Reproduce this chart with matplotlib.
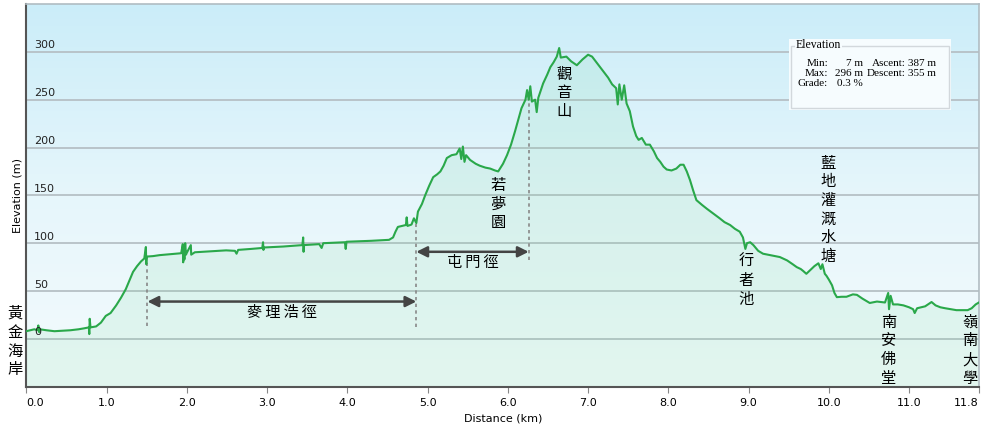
import matplotlib
matplotlib.use('Agg')
import matplotlib.pyplot as plt
import matplotlib.patches as mpatches
import matplotlib.transforms as mtransforms
from matplotlib.colors import LinearSegmentedColormap
import numpy as np

# elevation profile (km, m)
dist = [0.00, 0.05, 0.10, 0.14, 0.15, 0.16, 0.17, 0.25, 0.35, 0.45, 0.55, 0.65, 0.72, 0.78, 0.785, 0.79, 0.80,
        0.87, 0.93, 0.99, 1.05, 1.12, 1.18, 1.24, 1.29, 1.33, 1.38, 1.43, 1.47, 1.49, 1.495, 1.50, 1.58, 1.66,
        1.80, 1.93, 1.95, 1.955, 1.96, 1.97, 1.98, 1.99, 2.00, 2.05, 2.055, 2.10, 2.30, 2.49, 2.60, 2.62, 2.64,
        2.80, 2.94, 2.95, 2.955, 2.96, 3.20, 3.44, 3.45, 3.455, 3.46, 3.65, 3.68, 3.70, 3.97, 3.98, 3.99, 4.30,
        4.52, 4.57, 4.60, 4.63, 4.73, 4.74, 4.75, 4.80, 4.83, 4.86, 4.88, 4.93, 4.97, 5.02, 5.07, 5.12, 5.16,
        5.20, 5.24, 5.30, 5.36, 5.40, 5.42, 5.44, 5.46, 5.48, 5.53, 5.60, 5.65, 5.72, 5.78, 5.84, 5.88, 5.94,
        5.99, 6.04, 6.09, 6.13, 6.17, 6.22, 6.24, 6.26, 6.28, 6.30, 6.34, 6.36, 6.38, 6.44, 6.49, 6.53, 6.57,
        6.61, 6.64, 6.66, 6.73, 6.79, 6.86, 6.93, 7.00, 7.05, 7.15, 7.25, 7.30, 7.35, 7.37, 7.39, 7.42, 7.45,
        7.48, 7.52, 7.56, 7.60, 7.63, 7.67, 7.72, 7.77, 7.82, 7.86, 7.90, 7.94, 7.98, 8.04, 8.10, 8.15, 8.19,
        8.23, 8.27, 8.31, 8.35, 8.42, 8.48, 8.56, 8.64, 8.70, 8.77, 8.83, 8.89, 8.93, 8.96, 8.98, 9.02, 9.06,
        9.12, 9.18, 9.30, 9.39, 9.48, 9.55, 9.60, 9.65, 9.68, 9.72, 9.77, 9.82, 9.87, 9.90, 9.92, 9.95, 9.97,
        10.00, 10.04, 10.07, 10.10, 10.16, 10.22, 10.30, 10.35, 10.42, 10.51, 10.60, 10.70, 10.74, 10.75,
        10.77, 10.80, 10.86, 10.93, 11.00, 11.05, 11.07, 11.10, 11.20, 11.28, 11.33, 11.39, 11.45, 11.59,
        11.73, 11.78, 11.83, 11.87]
elev = [8, 9, 10, 9, 14, 7, 10, 9, 8, 8.5, 9, 10, 11, 12, 5, 21, 12,
        13, 17, 24, 27, 35, 43, 52, 62, 70, 76, 81, 84, 96, 78, 86, 86.5, 87.5,
        88.5, 89.5, 99, 80, 97, 83, 100, 88, 90, 98, 88, 90.5, 91.5, 92.5, 92, 89, 93,
        94, 95, 101, 93, 95.5, 96.5, 98, 106, 91, 98, 99, 95, 100, 101, 94, 101.5, 102.5,
        103.5, 106, 112, 117, 119, 127, 118, 119.5, 126, 121, 133, 141, 150, 160, 169, 172, 175,
        181, 189, 192, 193, 199, 188, 201, 185, 192, 187, 183, 181, 179, 178, 176, 175, 183,
        192, 203, 217, 229, 241, 250, 260, 250, 264, 248, 250, 237, 252, 267, 276, 284, 289,
        295, 304, 294, 295, 290, 286, 292, 297, 295, 284, 273, 266, 262, 245, 266, 250, 265,
        246, 238, 222, 212, 208, 210, 203, 203, 196, 189, 185, 180, 177, 176, 178, 182, 182,
        175, 166, 155, 145, 140, 136, 131, 126, 122, 119, 115, 112, 106, 94, 100, 101, 98,
        92, 89, 87, 85.5, 82, 78, 75, 73, 71, 68, 72, 76, 79, 73, 78, 68, 66,
        62, 56, 48, 43.6, 44, 44, 46.5, 46, 42, 37.5, 39, 38, 48, 31,
        45, 36, 36, 35, 33, 31, 27, 32, 34, 38.5, 35, 33, 32, 30,
        30, 32, 36, 38]

y_ticks = [0, 50, 100, 150, 200, 250, 300]
x_ticks = [0, 1, 2, 3, 4, 5, 6, 7, 8, 9, 10, 11, 11.87]
x_ticklabels = ['0.0', '1.0', '2.0', '3.0', '4.0', '5.0', '6.0', '7.0', '8.0', '9.0', '10.0', '11.0', '11.8']

# place names (vertical text): label, km, elevation of the text centre
places = [('黃金海岸', -0.14, -3),
          ('若夢園', 5.88, 141),
          ('觀音山', 6.70, 257),
          ('行者池', 8.97, 61),
          ('藍地灌溉水塘', 9.99, 135),
          ('南安佛堂', 10.74, -12),
          ('嶺南大學', 11.76, -12)]

# trail sections: name, start km, end km, arrow elevation
trails = [('麥理浩徑', 1.51, 4.86, 39),
          ('屯門徑', 4.86, 6.26, 91)]

stats = {'min': 7, 'max': 296, 'ascent': 387, 'descent': 355, 'grade': 0.3}

cjk = ['Noto Sans CJK TC', 'DejaVu Sans']
xmax, ymin, ymax = 11.875, -50, 350

fig = plt.figure(figsize=(9.85, 4.33), dpi=100)
ax = fig.add_axes([26.3 / 985, 46.3 / 433, 953 / 985, 382.7 / 433])

bg = LinearSegmentedColormap.from_list('bg', ['#f4fbfd', '#e6f6fb', '#cbedf9'])
ax.imshow(np.linspace(0, 1, 256).reshape(-1, 1), extent=[0, xmax, ymin, ymax], aspect='auto',
          cmap=bg, origin='lower', zorder=0)

for v in y_ticks:
    ax.axhline(v, color='#b6c0c5', lw=1.3, zorder=1)
    ax.text(0.008, v + 1.5, str(v), transform=mtransforms.blended_transform_factory(ax.transAxes, ax.transData),
            fontsize=8, color='#222222', va='bottom', ha='left', zorder=5)

ax.fill_between(dist, elev, ymin, color='#6fd596', alpha=0.13, lw=0, zorder=2)
ax.plot(dist, elev, color='#2aa84a', lw=1.5, zorder=4)

# trail arrows with dashed end markers
for name, x0, x1, y in trails:
    ax.annotate('', xy=(x0, y), xytext=(x1, y),
                arrowprops=dict(arrowstyle='<|-|>', color='#444444', lw=1.8, mutation_scale=16,
                                shrinkA=0, shrinkB=0), zorder=6)
    ax.text((x0 + x1) / 2, y - 11, '\u2009'.join(name), family=cjk, fontsize=11, ha='center', va='center',
            zorder=6)
for xd, ytop, ybot in [(1.51, 85, 13), (4.86, 120, 12), (6.26, 252, 82)]:
    ax.plot([xd, xd], [ybot, ytop], color='#888888', lw=1.2, ls=(0, (2, 2)), zorder=3)

for name, x, y in places:
    ax.text(x, y, '\n'.join(name), family=cjk, fontsize=11, ha='center', va='center',
            linespacing=1.14, zorder=6, clip_on=False)

ax.set_xlim(0, xmax)
ax.set_ylim(ymin, ymax)
ax.set_yticks([])
ax.set_xticks(x_ticks)
ax.set_xticklabels(x_ticklabels, fontsize=8)
labs = ax.get_xticklabels()
labs[0].set_ha('left')
labs[-1].set_ha('right')
ax.tick_params(axis='x', length=4, color='#888888', pad=4)
ax.set_xlabel('Distance (km)', fontsize=8, labelpad=4)
ax.set_ylabel('Elevation (m)', fontsize=8, labelpad=3)

for s in ['left', 'bottom']:
    ax.spines[s].set_color('#555555')
    ax.spines[s].set_linewidth(1.5)
for s in ['top', 'right']:
    ax.spines[s].set_color('#b0bcc2')
    ax.spines[s].set_linewidth(1.2)


# stats box, positioned in pixels of the figure
def px(x, y):
    return ((x - 26.3) / 953, (386.7 - y) / 382.7)


x0, y0 = px(789, 110)
x1, y1 = px(951, 39)
ax.add_patch(mpatches.Rectangle((x0, y0), x1 - x0, y1 - y0, transform=ax.transAxes,
                                facecolor='#f6fcfe', edgecolor='none', zorder=7))
x0, y0 = px(791, 108)
x1, y1 = px(949, 46)
ax.add_patch(mpatches.Rectangle((x0, y0), x1 - x0, y1 - y0, transform=ax.transAxes,
                                facecolor='none', edgecolor='#d2d8dc', lw=1, zorder=8))
serif = 'Liberation Serif'
tx, ty = px(796, 45.5)
ax.text(tx, ty, 'Elevation', transform=ax.transAxes, family=serif, fontsize=8.5, va='center', ha='left',
        zorder=9, bbox=dict(facecolor='#f6fcfe', edgecolor='none', pad=0.5))
rows = [('Min:', '%d m' % stats['min'], 'Ascent:', '%d m' % stats['ascent']),
        ('Max:', '%d m' % stats['max'], 'Descent:', '%d m' % stats['descent']),
        ('Grade:', '%.1f %%' % stats['grade'], '', '')]
for i, (a, b, c, d) in enumerate(rows):
    ry = 63.5 + i * 9.8
    for txt, xp, ha in [(a, 828, 'right'), (b, 863, 'right'), (c, 906, 'right'), (d, 908, 'left')]:
        if txt:
            p = px(xp, ry)
            ax.text(p[0], p[1], txt, transform=ax.transAxes, family=serif, fontsize=8,
                    ha=ha, va='center', zorder=9)

fig.savefig('out.png', dpi=100)
